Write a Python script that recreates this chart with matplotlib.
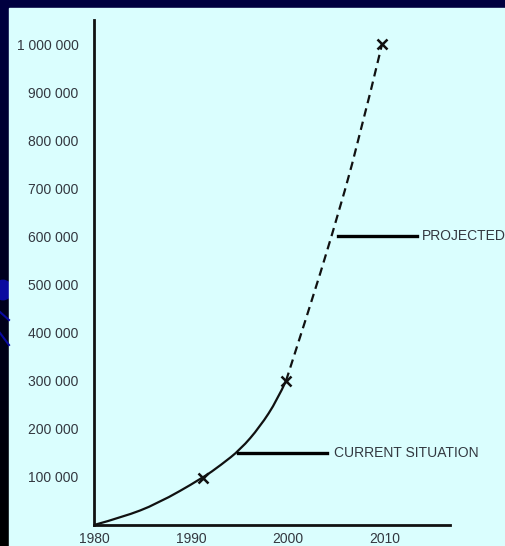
import numpy as np
import matplotlib
matplotlib.use("Agg")
import matplotlib.pyplot as plt
from matplotlib.patches import Rectangle, Circle, PathPatch
from matplotlib.path import Path
from matplotlib.lines import Line2D

plt.rcParams['font.family'] = ['Liberation Sans', 'DejaVu Sans']

# observed growth up to 2000
years_now = [1980, 1983, 1986.5, 1991.2, 1993.1, 1995.1, 1997.1, 1998.9, 1999.8]
values_now = [0, 16600, 43700, 97700, 125000, 157000, 204000, 260000, 300000]

# projection to 2010
years_proj = [1999.8, 2002.2, 2004.5, 2007.2, 2009.7]
values_proj = [300000, 450000, 600000, 790000, 1000000]

# crosses on the curve
mark_years = [1991.2, 1999.8, 2009.7]
mark_values = [97700, 300000, 1000000]

xticks = [1980, 1990, 2000, 2010]
yticks = [100000, 200000, 300000, 400000, 500000, 600000, 700000, 800000, 900000, 1000000]

panel = '#dafefe'
ink = '#111111'
txt = '#333840'


def smooth_path(xs, ys):
    # quadratic beziers through the midpoints, ends pinned to the first/last point
    pts = list(zip(xs, ys))
    verts = [pts[0]]
    codes = [Path.MOVETO]
    for i in range(1, len(pts) - 1):
        mid = ((pts[i][0] + pts[i + 1][0]) / 2, (pts[i][1] + pts[i + 1][1]) / 2)
        if i == len(pts) - 2:
            mid = pts[-1]
        verts += [pts[i], mid]
        codes += [Path.CURVE3, Path.CURVE3]
    return Path(verts, codes)


W, H = 506, 546
fig = plt.figure(figsize=(W / 100, H / 100), dpi=100)

# dark slide background with blue fade towards the bottom
bg = fig.add_axes([0, 0, 1, 1])
grad = np.linspace(0, 1, 256).reshape(-1, 1)
bg.imshow(grad, aspect='auto', extent=[0, 1, 0, 1],
          cmap=matplotlib.colors.LinearSegmentedColormap.from_list('bg', ['#000040', '#000000']))
bg.set_xlim(0, 1)
bg.set_ylim(0, 1)
bg.axis('off')
bg.add_patch(Circle((3 / W, 1 - 290 / H), 9 / W, color='#0a0aa0', transform=bg.transAxes))
bg.add_line(Line2D([0, 9 / W], [1 - 312 / H, 1 - 320 / H], color='#0a0aa0', lw=1.5))
bg.add_line(Line2D([0, 9 / W], [1 - 333 / H, 1 - 345 / H], color='#0a0aa0', lw=1.5))
bg.add_patch(Rectangle((9 / W, 0), 1, 1 - 8 / H, color=panel, transform=bg.transAxes))

ax = fig.add_axes([94 / W, 21 / H, (450 - 94) / W, (525 - 20) / H])
ax.set_facecolor('none')
ax.set_xlim(1980, 1980 + (450 - 94) / 9.7)
ax.set_ylim(0, (525 - 20) / 481 * 1e6)

ax.add_patch(PathPatch(smooth_path(years_now, values_now), fill=False,
                       edgecolor=ink, lw=1.6, capstyle='round'))
proj = PathPatch(smooth_path(years_proj, values_proj), fill=False, edgecolor=ink, lw=1.6)
proj.set_linestyle((0, (3.8, 2.4)))
ax.add_patch(proj)
ax.plot(mark_years, mark_values, 'x', color=ink, ms=7, mew=1.8)

# callout lines with labels
ax.plot([1994.8, 2004.0], [150000, 150000], color='black', lw=2.4, clip_on=False)
ax.text(2004.7, 150000, 'CURRENT SITUATION', fontsize=10, color=txt, va='center', ha='left')
ax.plot([2005.2, 2013.3], [600000, 600000], color='black', lw=2.4, clip_on=False)
ax.text(2013.8, 600000, 'PROJECTED', fontsize=10, color=txt, va='center', ha='left', clip_on=False)

for s in ['top', 'right']:
    ax.spines[s].set_visible(False)
for s in ['left', 'bottom']:
    ax.spines[s].set_linewidth(2)
    ax.spines[s].set_color(ink)

ax.set_xticks(xticks)
ax.set_xticklabels([str(x) for x in xticks])
ax.set_yticks(yticks)
ax.set_yticklabels(['{:,}'.format(v).replace(',', ' ') for v in yticks])
ax.tick_params(axis='both', length=0, labelsize=10, labelcolor=txt)
ax.tick_params(axis='y', pad=11)
ax.tick_params(axis='x', pad=5)

fig.savefig('out.png', dpi=100)
